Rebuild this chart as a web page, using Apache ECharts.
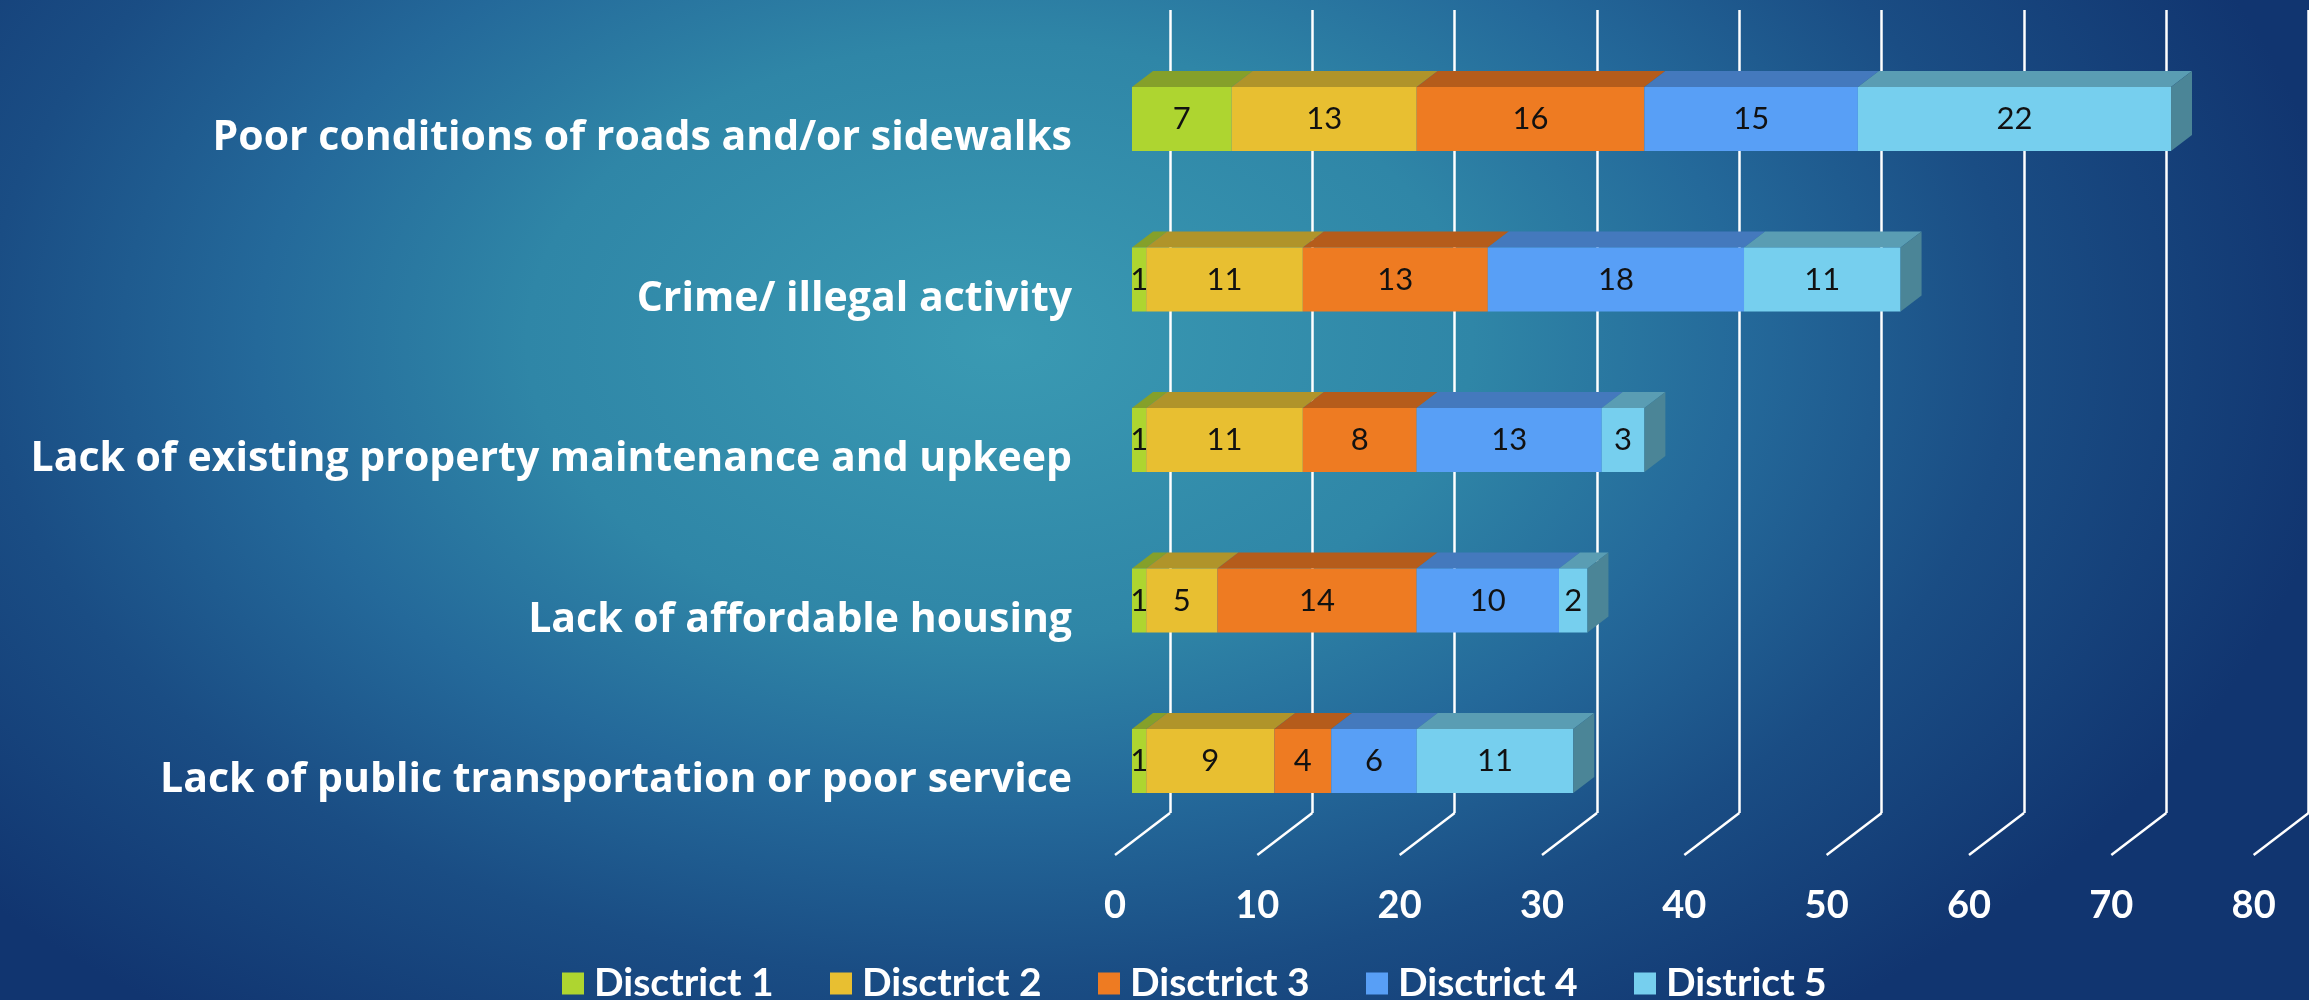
<!DOCTYPE html>
<html>
<head>
<meta charset="utf-8">
<script src="https://cdn.jsdelivr.net/npm/echarts@6/dist/echarts.min.js"></script>
<style>
html, body { margin: 0; padding: 0; }
body {
  width: 2309px; height: 1000px; overflow: hidden;
  background: radial-gradient(ellipse 1350px 850px at 1000px 340px, #3a9ab3 0%, #2f86a7 35%, #24699a 55%, #1a4d84 75%, #113570 100%);
}
#chart { width: 2309px; height: 1000px; }
</style>
</head>
<body>
<div id="chart"></div>
<script>
// data
var categories = [
  'Poor conditions of roads and/or sidewalks',
  'Crime/ illegal activity',
  'Lack of existing property maintenance and upkeep',
  'Lack of affordable housing',
  'Lack of public transportation or poor service'
];
var seriesNames = ['Disctrict 1', 'Disctrict 2', 'Disctrict 3', 'Disctrict 4', 'District 5'];
var district1 = [7, 1, 1, 1, 1];
var district2 = [13, 11, 11, 5, 9];
var district3 = [16, 13, 8, 14, 4];
var district4 = [15, 18, 13, 10, 6];
var district5 = [22, 11, 3, 2, 11];
var tickValues = [0, 10, 20, 30, 40, 50, 60, 70, 80];

var frontColors = ['#aed530', '#e8bf31', '#ee7b22', '#589ff6', '#76cfee'];
var topColors = ['#85a02a', '#b0942a', '#b55c1b', '#4479bd', '#5a9db3'];
var sideColor = '#4b8597';

var DX = 21, DY = -16;   // bar depth offset
var FX = 55, FY = 42;    // floor depth offset
var UNIT = 14.233;       // px per unit

var allSeries = [district1, district2, district3, district4, district5];

function makeRender(si) {
  return function (params, api) {
    var cat = api.value(2);
    var p0 = api.coord([api.value(0), cat]);
    var p1 = api.coord([api.value(1), cat]);
    var h = api.size([0, 1])[1] * 0.4;
    var yt = p0[1] - h / 2, yb = p0[1] + h / 2;
    var x0 = p0[0], x1 = p1[0];
    var kids = [
      { type: 'polygon', shape: { points: [[x0, yt], [x1, yt], [x1 + DX, yt + DY], [x0 + DX, yt + DY]] },
        style: { fill: topColors[si] } },
      { type: 'rect', shape: { x: x0, y: yt, width: x1 - x0, height: h },
        style: { fill: frontColors[si] } }
    ];
    if (si == allSeries.length - 1) {
      kids.push({ type: 'polygon', shape: { points: [[x1, yt], [x1 + DX, yt + DY], [x1 + DX, yb + DY], [x1, yb]] },
        style: { fill: sideColor } });
    }
    kids.push({ type: 'text', style: { text: String(api.value(3)), x: (x0 + x1) / 2, y: p0[1],
      align: 'center', verticalAlign: 'middle', fill: '#111', fontSize: 31, fontFamily: 'Lato' } });
    return { type: 'group', children: kids };
  };
}

var series = [];
var starts = categories.map(function () { return 0; });
for (var i = 0; i < allSeries.length; i++) {
  var rows = [];
  for (var j = 0; j < categories.length; j++) {
    rows.push([starts[j], starts[j] + allSeries[i][j], j, allSeries[i][j]]);
    starts[j] += allSeries[i][j];
  }
  series.push({
    name: seriesNames[i], type: 'custom', xAxisIndex: 0, yAxisIndex: 0,
    itemStyle: { color: frontColors[i] },
    encode: { x: [0, 1], y: 2 },
    renderItem: makeRender(i),
    data: rows
  });
}

// floor lines from back wall to the front
series.push({
  type: 'custom', xAxisIndex: 1, yAxisIndex: 1, silent: true,
  encode: { x: 0, y: 1 },
  data: tickValues.map(function (v) { return [v, 0]; }),
  renderItem: function (params, api) {
    var p = api.coord([api.value(0), 0]);
    return { type: 'line', shape: { x1: p[0], y1: p[1], x2: p[0] - FX, y2: p[1] + FY },
      style: { stroke: '#ffffff', lineWidth: 2.5 } };
  }
});

var legends = seriesNames.map(function (n, i) {
  return {
    data: [n], left: 557 + i * 268, top: 959, icon: 'rect',
    itemWidth: 22, itemHeight: 22, itemGap: 0,
    textStyle: { color: '#fff', fontSize: 39, fontWeight: 'bold',
      fontFamily: "'Liberation Sans Narrow', Lato", padding: [0, 0, 0, 5] }
  };
});

var myChart = echarts.init(document.getElementById('chart'));
var option = {
  backgroundColor: 'transparent',
  animation: false,
  legend: legends,
  grid: [
    { left: 1132, width: 80 * UNIT, top: 38.75, height: 802.5 },
    { left: 1170, width: 80 * UNIT, top: 10, height: 803 },
    { left: 1115, width: 80 * UNIT, top: 800, height: 55 }
  ],
  xAxis: [
    { gridIndex: 0, type: 'value', min: 0, max: 80, interval: 10, show: false },
    { gridIndex: 1, type: 'value', min: 0, max: 80, interval: 10,
      axisLine: { show: false }, axisTick: { show: false }, axisLabel: { show: false },
      splitLine: { show: true, lineStyle: { color: '#ffffff', width: 2.5 } } },
    { gridIndex: 2, type: 'value', min: 0, max: 80, interval: 10,
      axisLine: { show: false }, axisTick: { show: false }, splitLine: { show: false },
      axisLabel: { color: '#fff', fontSize: 38, fontWeight: 'bold', fontFamily: 'Lato', margin: 32 } }
  ],
  yAxis: [
    { gridIndex: 0, type: 'category', inverse: true, data: categories,
      axisLine: { show: false }, axisTick: { show: false },
      axisLabel: { color: '#fff', fontSize: 41, fontWeight: 'bold', fontFamily: 'Open Sans', margin: 60,
        verticalAlign: 'top', lineHeight: 39 } },
    { gridIndex: 1, type: 'value', min: 0, max: 1, show: false },
    { gridIndex: 2, type: 'value', min: 0, max: 1, show: false }
  ],
  series: series
};
myChart.setOption(option);
</script>
</body>
</html>
